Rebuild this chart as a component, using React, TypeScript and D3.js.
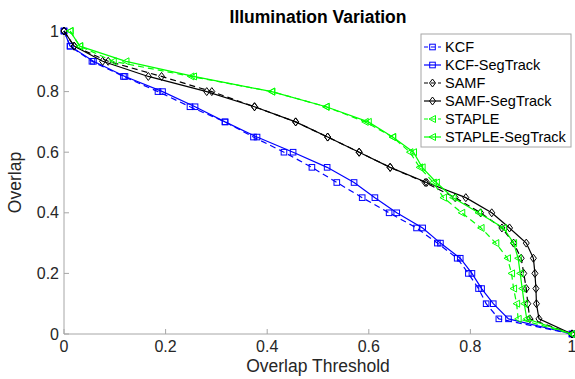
import React from "react";
import * as d3 from "d3";

const W = 575;
const H = 379;

const overlapLevels = [1, 0.95, 0.9, 0.85, 0.8, 0.75, 0.7, 0.65, 0.6, 0.55, 0.5, 0.45, 0.4, 0.35, 0.3, 0.25, 0.2, 0.15, 0.1, 0.05, 0];

const kcf = [0, 0.012, 0.055, 0.117, 0.185, 0.248, 0.317, 0.373, 0.433, 0.488, 0.537, 0.587, 0.64, 0.694, 0.735, 0.774, 0.796, 0.816, 0.831, 0.856, 1];
const kcfSeg = [0, 0.012, 0.058, 0.12, 0.194, 0.258, 0.317, 0.38, 0.451, 0.518, 0.571, 0.612, 0.655, 0.706, 0.741, 0.78, 0.803, 0.822, 0.845, 0.875, 1];
const samf = [0, 0.02, 0.087, 0.192, 0.291, 0.375, 0.456, 0.519, 0.581, 0.642, 0.711, 0.77, 0.82, 0.862, 0.885, 0.9, 0.905, 0.91, 0.913, 0.917, 1];
const samfSeg = [0, 0.02, 0.076, 0.166, 0.281, 0.375, 0.456, 0.519, 0.581, 0.642, 0.714, 0.791, 0.842, 0.877, 0.91, 0.924, 0.927, 0.929, 0.93, 0.935, 1];
const staple = [0.012, 0.031, 0.097, 0.25, 0.409, 0.516, 0.593, 0.647, 0.681, 0.7, 0.727, 0.747, 0.783, 0.821, 0.85, 0.873, 0.881, 0.885, 0.891, 0.894, 1];
const stapleSeg = [0.012, 0.031, 0.122, 0.255, 0.409, 0.516, 0.599, 0.647, 0.688, 0.705, 0.733, 0.766, 0.816, 0.865, 0.885, 0.894, 0.898, 0.902, 0.906, 0.911, 1];

const seriesNames = ["KCF", "KCF-SegTrack", "SAMF", "SAMF-SegTrack", "STAPLE", "STAPLE-SegTrack"];
const seriesColors = ["#0000ff", "#0000ff", "#000000", "#000000", "#00ff00", "#00ff00"];
const seriesDashed = [true, false, true, false, true, false];
const seriesMarkers = ["square", "square", "diamond", "diamond", "triangle", "triangle"];
const seriesValues = [kcf, kcfSeg, samf, samfSeg, staple, stapleSeg];

const xTicks = [0, 0.2, 0.4, 0.6, 0.8, 1];
const yTicks = [0, 0.2, 0.4, 0.6, 0.8, 1];

const FONT = "'Liberation Sans', Arial, Helvetica, sans-serif";

function Marker({ type, x, y, color }: { type: string; x: number; y: number; color: string }) {
  if (type === "square") {
    return <rect x={x - 2.8} y={y - 2.8} width={5.6} height={5.6} fill="none" stroke={color} strokeWidth={1} />;
  }
  if (type === "diamond") {
    return <path d={`M${x},${y - 4}L${x + 3},${y}L${x},${y + 4}L${x - 3},${y}Z`} fill="none" stroke={color} strokeWidth={1} />;
  }
  return <path d={`M${x - 3.5},${y}L${x + 3},${y - 3.5}L${x + 3},${y + 3.5}Z`} fill="none" stroke={color} strokeWidth={1} />;
}

export default function App() {
  const x = d3.scaleLinear().domain([0, 1]).range([64, 572]);
  const y = d3.scaleLinear().domain([0, 1]).range([334, 31]);
  const line = d3
    .line<[number, number]>()
    .x((d) => x(d[0]))
    .y((d) => y(d[1]));

  const axisColor = "#a6a6a6";
  const textColor = "#262626";

  const legendX = 421;
  const legendY = 34;
  const legendW = 150;
  const legendH = 113;

  return (
    <svg width={W} height={H} style={{ position: "absolute", left: 0, top: 0 }}>
      <rect x={0} y={0} width={W} height={H} fill="#fff" />
      {/* axes */}
      <line x1={x(0)} x2={x(1)} y1={y(0)} y2={y(0)} stroke={axisColor} strokeWidth={1} />
      <line x1={x(0)} x2={x(0)} y1={y(0)} y2={y(1)} stroke={axisColor} strokeWidth={1} />
      {xTicks.map((t) => (
        <g key={"xt" + t}>
          <line x1={x(t)} x2={x(t)} y1={y(0)} y2={y(0) - 5} stroke={axisColor} />
          <text x={x(t)} y={352} textAnchor="middle" fontFamily={FONT} fontSize={16} fill={textColor}>
            {String(t)}
          </text>
        </g>
      ))}
      {yTicks.map((t) => (
        <g key={"yt" + t}>
          <line x1={x(0)} x2={x(0) + 5} y1={y(t)} y2={y(t)} stroke={axisColor} />
          <text x={59} y={y(t) + 5.5} textAnchor="end" fontFamily={FONT} fontSize={16} fill={textColor}>
            {String(t)}
          </text>
        </g>
      ))}
      <text x={(x(0) + x(1)) / 2} y={372} textAnchor="middle" fontFamily={FONT} fontSize={17.5} fill={textColor}>
        Overlap Threshold
      </text>
      <text
        transform={`translate(21,${(y(0) + y(1)) / 2}) rotate(-90)`}
        textAnchor="middle"
        fontFamily={FONT}
        fontSize={17.5}
        fill={textColor}
      >
        Overlap
      </text>
      <text x={(x(0) + x(1)) / 2} y={23} textAnchor="middle" fontFamily={FONT} fontSize={17.5} fontWeight="bold" fill="#000">
        Illumination Variation
      </text>

      {/* series */}
      {seriesValues.map((vals, i) => {
        const pts: [number, number][] = vals.map((v, j) => [v, overlapLevels[j]]);
        return (
          <g key={seriesNames[i]}>
            <path
              d={line(pts) || ""}
              fill="none"
              stroke={seriesColors[i]}
              strokeWidth={1.2}
              strokeDasharray={seriesDashed[i] ? "6,4" : undefined}
            />
            {pts.map((p, j) => (
              <Marker key={j} type={seriesMarkers[i]} x={x(p[0])} y={y(p[1])} color={seriesColors[i]} />
            ))}
          </g>
        );
      })}

      {/* legend */}
      <rect x={legendX} y={legendY} width={legendW} height={legendH} fill="#fff" stroke="#a6a6a6" strokeWidth={1} />
      {seriesNames.map((name, i) => {
        const ly = legendY + 13 + i * 18;
        return (
          <g key={"lg" + name}>
            <line
              x1={legendX + 3}
              x2={legendX + 20}
              y1={ly}
              y2={ly}
              stroke={seriesColors[i]}
              strokeWidth={1.2}
              strokeDasharray={seriesDashed[i] ? "4,3" : undefined}
            />
            <Marker type={seriesMarkers[i]} x={legendX + 11.5} y={ly} color={seriesColors[i]} />
            <text x={legendX + 24} y={ly + 5} fontFamily={FONT} fontSize={14.5} fill="#000">
              {name}
            </text>
          </g>
        );
      })}
    </svg>
  );
}
